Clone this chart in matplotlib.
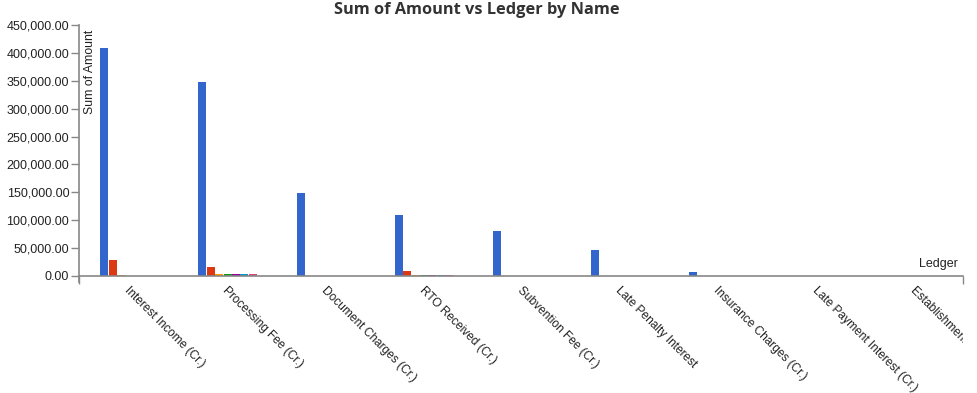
import matplotlib
matplotlib.use("Agg")
import matplotlib.pyplot as plt
from matplotlib.transforms import Bbox, TransformedBbox, blended_transform_factory

categories = ["Interest Income (Cr.)", "Processing Fee (Cr.)", "Document Charges (Cr.)",
              "RTO Received (Cr.)", "Subvention Fee (Cr.)", "Late Penalty Interest",
              "Insurance Charges (Cr.)", "Late Payment Interest (Cr.)", "Establishment Charges (Cr.)"]

# series values per category (7 names)
s1 = [409000, 348000, 148000, 110000, 81000, 47000, 7000, 0, 0]
s2 = [28000, 16000, 0, 9000, 0, 0, 0, 0, 0]
s3 = [1500, 3500, 0, 1800, 0, 0, 0, 0, 0]
s4 = [0, 3500, 0, 1800, 0, 0, 0, 0, 0]
s5 = [0, 3500, 0, 1800, 0, 0, 0, 0, 0]
s6 = [0, 3500, 0, 1800, 0, 0, 0, 0, 0]
s7 = [0, 3500, 0, 1800, 0, 0, 0, 0, 0]
series = [s1, s2, s3, s4, s5, s6, s7]
colors = ["#3366CC", "#DC3912", "#FF9900", "#109618", "#990099", "#0099C6", "#DD4477"]
yticks = [0, 50000, 100000, 150000, 200000, 250000, 300000, 350000, 400000, 450000]

W, H = 977, 393
fig = plt.figure(figsize=(W / 100, H / 100), dpi=100)
plt.rcParams['font.family'] = ['Liberation Sans', 'DejaVu Sans']
ax = fig.add_axes([79 / W, 1 - 276 / H, (963 - 79) / W, (276 - 25) / H])

n = len(categories)
bw = 0.0815
slot = 0.0858
off0 = 0.215
for j, (vals, c) in enumerate(zip(series, colors)):
    xs = [i + off0 + j * slot for i in range(n)]
    ax.bar(xs, vals, width=bw, align='edge', color=c, linewidth=0)

ax.set_xlim(0, n)
ax.set_ylim(0, 450000)
for s in ["top", "right"]:
    ax.spines[s].set_visible(False)
ax.spines["left"].set_color("#888888")
ax.spines["bottom"].set_color("#888888")
ax.spines["left"].set_linewidth(1.2)
ax.spines["bottom"].set_linewidth(1.2)

ax.set_yticks(yticks)
ax.set_yticklabels([f"{v:,.2f}" for v in yticks])
ax.tick_params(axis='y', length=6, width=1, color="#888888", labelsize=9, labelcolor="#222222", pad=1)

ax.set_xticks([0, n])
ax.set_xticklabels([])
ax.tick_params(axis='x', length=6, width=1, color="#888888")

# extend y axis slightly below the x axis
ax.plot([0, 0], [0, -6 * 450000 / 251], color="#888888", lw=1.2, clip_on=False)

clip = TransformedBbox(Bbox([[0, 0], [963 / W, 1]]), fig.transFigure)
trans = blended_transform_factory(ax.transData, ax.transAxes)
for i, lab in enumerate(categories):
    t = ax.text(i + 0.525, -0.035, lab, transform=trans, rotation=-45, rotation_mode='anchor',
                ha='left', va='top', fontsize=8.6, color="#222222")
    t.set_clip_on(True)
    t.set_clip_box(clip)

fig.text(90 / W, 1 - 30 / H, "Sum of Amount", rotation=90, ha='center', va='top',
         fontsize=8.8, color="#222222")
fig.text(958 / W, 1 - 270 / H, "Ledger", ha='right', va='bottom', fontsize=9, color="#222222")
fig.text(477 / W, 1 - 2 / H, "Sum of Amount vs Ledger by Name", ha='center', va='top',
         fontsize=11.8, fontweight='bold', color="#333333", family=['Open Sans', 'DejaVu Sans'])

fig.savefig("out.png", dpi=100)
